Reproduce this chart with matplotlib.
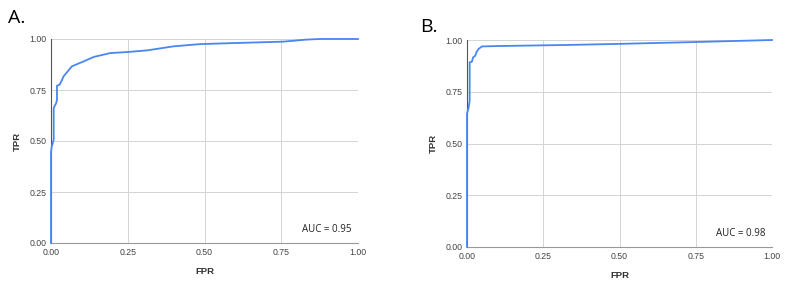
import matplotlib
matplotlib.use("Agg")
import matplotlib.pyplot as plt

# ROC curve A
fpr_a = [0.0, 0.0, 0.002, 0.0087, 0.0087, 0.017, 0.0195, 0.0195, 0.028, 0.036, 0.041, 0.068,
         0.106, 0.139, 0.193, 0.247, 0.312, 0.399, 0.486, 0.594, 0.756, 0.832, 0.875, 1.0]
tpr_a = [0.0, 0.441, 0.47, 0.507, 0.662, 0.686, 0.703, 0.771, 0.776, 0.80, 0.817, 0.866,
         0.89, 0.912, 0.931, 0.936, 0.944, 0.964, 0.975, 0.98, 0.987, 0.997, 1.0, 1.0]

# ROC curve B
fpr_b = [0.0, 0.0, 0.0055, 0.0087, 0.0087, 0.016, 0.02, 0.027, 0.031, 0.038, 0.049,
         0.109, 0.328, 0.492, 0.743, 1.0]
tpr_b = [0.0, 0.643, 0.675, 0.707, 0.892, 0.895, 0.916, 0.924, 0.941, 0.957, 0.969,
         0.971, 0.976, 0.981, 0.990, 1.0]

ticks = [0.0, 0.25, 0.5, 0.75, 1.0]
tick_labels = ["0.00", "0.25", "0.50", "0.75", "1.00"]

plt.rcParams['font.family'] = ['Liberation Sans', 'DejaVu Sans']

fig = plt.figure(figsize=(8, 2.89), dpi=100)

def draw(rect, fpr, tpr, auc, letter, letter_pos):
  ax = fig.add_axes(rect)
  ax.plot(fpr, tpr, color="#4a86f0", lw=1.3, clip_on=False, zorder=3)
  ax.set_xlim(0, 1)
  ax.set_ylim(0, 1)
  ax.set_xticks(ticks)
  ax.set_yticks(ticks)
  ax.set_xticklabels(tick_labels)
  ax.set_yticklabels(tick_labels)
  ax.tick_params(length=0, labelsize=6.3, colors="#444444")
  ax.tick_params(axis="x", pad=3.5)
  ax.tick_params(axis="y", pad=3)
  ax.grid(color="#d4d4d4", lw=0.7)
  for s in ["top", "right"]:
    ax.spines[s].set_visible(False)
  ax.spines["left"].set_color("#555555")
  ax.spines["bottom"].set_color("#999999")
  ax.spines["left"].set_linewidth(0.8)
  ax.spines["bottom"].set_linewidth(0.8)
  ax.set_xlabel("FPR", fontsize=6.8, color="#333333", fontweight="bold", labelpad=7)
  ax.set_ylabel("TPR", fontsize=6.8, color="#333333", fontweight="bold", labelpad=5.5)
  ax.text(0.98, 0.04, "AUC = " + auc, transform=ax.transAxes, ha="right", va="bottom",
          fontsize=7, color="#222222", family="Open Sans")
  fig.text(letter_pos[0], letter_pos[1], letter, fontsize=14, ha="left", va="center",
           family="Open Sans")
  return ax

draw([51/800, 1-243/289, 307/800, 204/289], fpr_a, tpr_a, "0.95", "A.", (8/800, 1-18/289))
draw([467/800, 1-247/289, 305/800, 207/289], fpr_b, tpr_b, "0.98", "B.", (420/800, 1-27/289))

plt.savefig("out.png", dpi=100)
